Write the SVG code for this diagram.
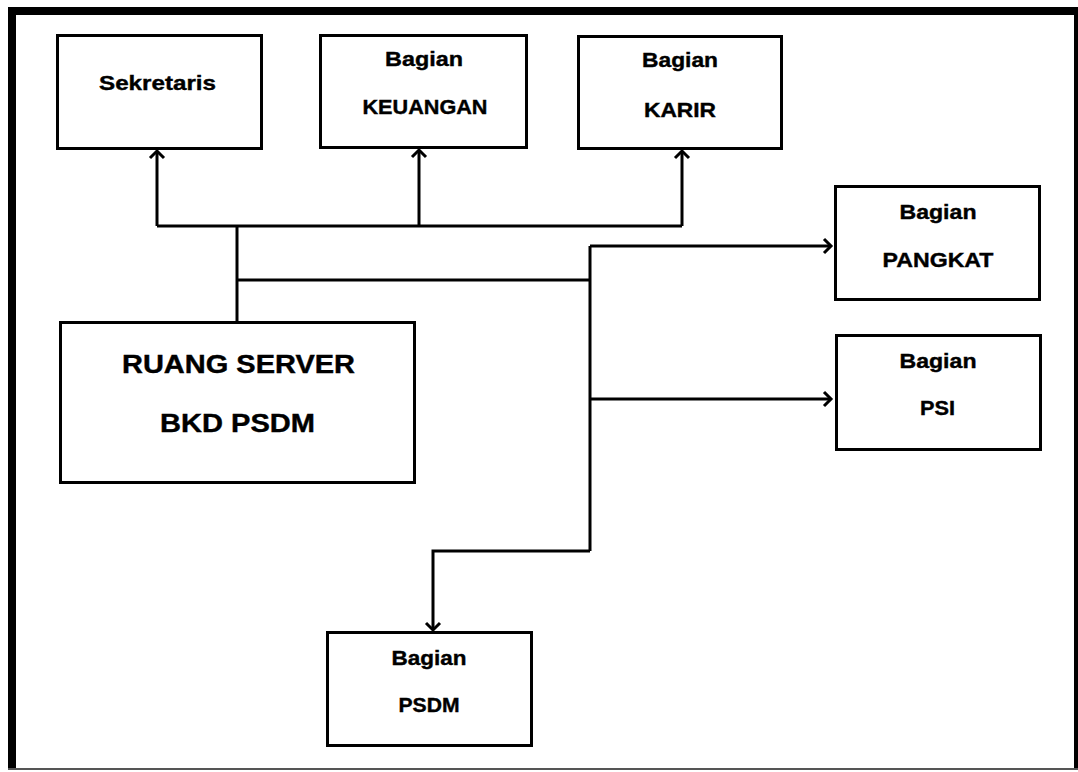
<svg xmlns="http://www.w3.org/2000/svg" width="1078" height="772" viewBox="0 0 1078 772">
<style>
.box{fill:#fff;stroke:#000;stroke-width:3}
.t{font-family:"Liberation Sans",Arial,sans-serif;font-weight:bold;font-size:20.5px;fill:#000;stroke:#000;stroke-width:0.4;text-anchor:middle}
.big{font-size:25px}
.c{fill:none;stroke:#000;stroke-width:3}
</style>
<defs>
<marker id="arr" markerUnits="userSpaceOnUse" markerWidth="20" markerHeight="20" refX="10" refY="10" orient="auto" viewBox="0 0 20 20">
<path d="M3,3 L10,10 L3,17" fill="none" stroke="#000" stroke-width="3"/>
</marker>
</defs>
<rect width="1078" height="772" fill="#fff"/>
<g id="frame">
<rect x="8" y="7" width="1070" height="8" fill="#000"/>
<rect x="8" y="7" width="8" height="763" fill="#000"/>
<rect x="1074" y="7" width="4" height="763" fill="#000"/>
<rect x="8" y="768" width="1070" height="2" fill="#555"/>
</g>
<g id="connectors">
<path class="c" d="M237,321 V226"/>
<path class="c" d="M157,226 H682"/>
<path class="c" marker-end="url(#arr)" d="M157,226 V151"/>
<path class="c" marker-end="url(#arr)" d="M419,226 V150"/>
<path class="c" marker-end="url(#arr)" d="M682,226 V151"/>
<path class="c" d="M237,280 H590"/>
<path class="c" d="M590,246 V551"/>
<path class="c" marker-end="url(#arr)" d="M590,246 H831"/>
<path class="c" marker-end="url(#arr)" d="M590,399 H831"/>
<path class="c" marker-end="url(#arr)" d="M590,551 H433 V630"/>
</g>
<g id="sekretaris">
<rect class="box" x="57.5" y="35.5" width="204" height="113"/>
<text class="t" x="157.5" y="90" textLength="117" lengthAdjust="spacingAndGlyphs">Sekretaris</text>
</g>
<g id="keuangan">
<rect class="box" x="320.5" y="35.5" width="206" height="112"/>
<text class="t" x="424" y="66" textLength="78" lengthAdjust="spacingAndGlyphs">Bagian</text>
<text class="t" x="425" y="114" textLength="125" lengthAdjust="spacingAndGlyphs">KEUANGAN</text>
</g>
<g id="karir">
<rect class="box" x="578.5" y="36.5" width="203" height="112"/>
<text class="t" x="680" y="67" textLength="76" lengthAdjust="spacingAndGlyphs">Bagian</text>
<text class="t" x="680" y="117" textLength="72" lengthAdjust="spacingAndGlyphs">KARIR</text>
</g>
<g id="pangkat">
<rect class="box" x="835.5" y="186.5" width="204" height="113"/>
<text class="t" x="938" y="219" textLength="77" lengthAdjust="spacingAndGlyphs">Bagian</text>
<text class="t" x="938" y="267" textLength="111" lengthAdjust="spacingAndGlyphs">PANGKAT</text>
</g>
<g id="psi">
<rect class="box" x="836.5" y="335.5" width="204" height="114"/>
<text class="t" x="938" y="368" textLength="77" lengthAdjust="spacingAndGlyphs">Bagian</text>
<text class="t" x="937.5" y="415" textLength="35" lengthAdjust="spacingAndGlyphs">PSI</text>
</g>
<g id="psdm">
<rect class="box" x="327.5" y="632.5" width="204" height="113"/>
<text class="t" x="429" y="665" textLength="75" lengthAdjust="spacingAndGlyphs">Bagian</text>
<text class="t" x="429" y="712" textLength="61" lengthAdjust="spacingAndGlyphs">PSDM</text>
</g>
<g id="server">
<rect class="box" x="60.5" y="322.5" width="354" height="160"/>
<text class="t big" x="238.5" y="373" textLength="233" lengthAdjust="spacingAndGlyphs">RUANG SERVER</text>
<text class="t big" x="237.5" y="432" textLength="155" lengthAdjust="spacingAndGlyphs">BKD PSDM</text>
</g>
</svg>
